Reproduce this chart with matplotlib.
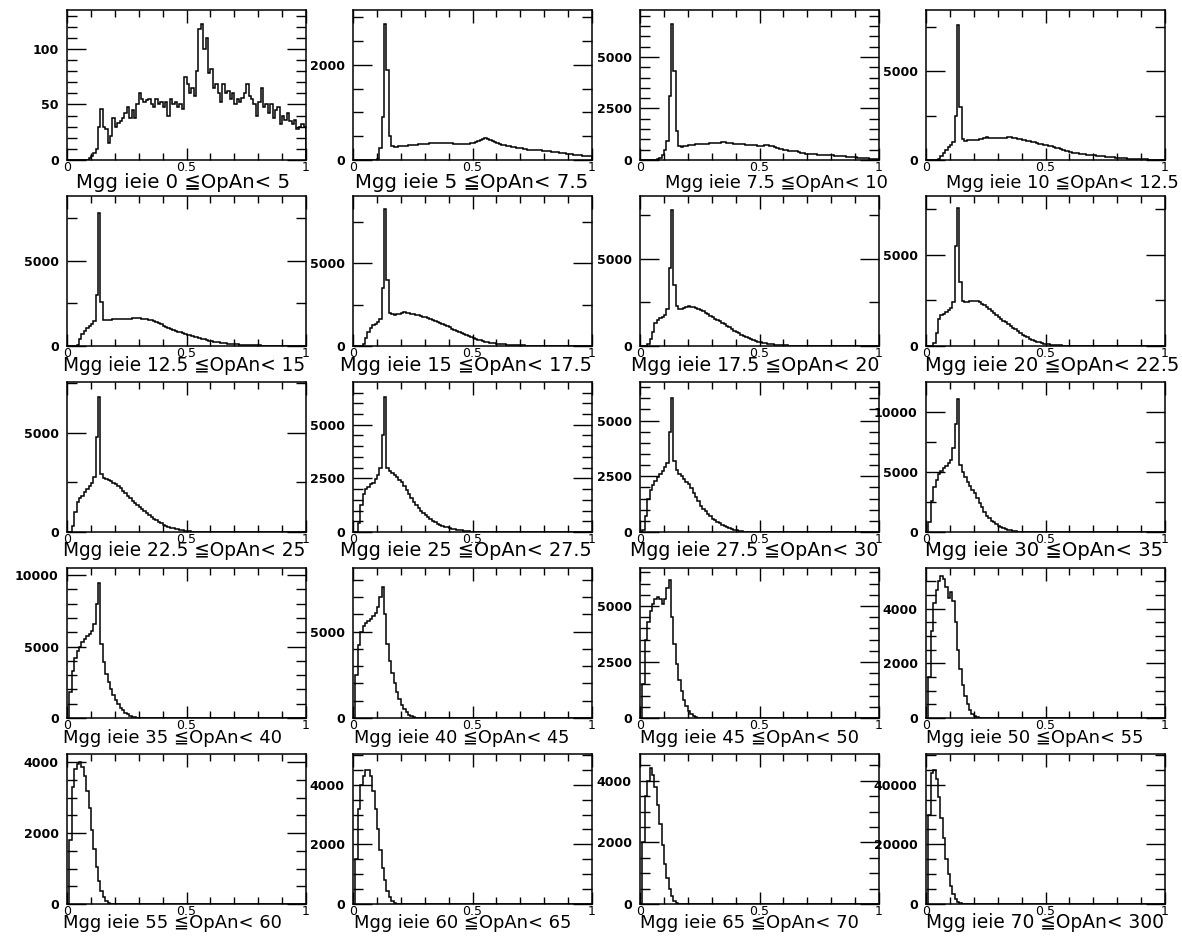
import numpy as np
import matplotlib.pyplot as plt
from matplotlib.ticker import MultipleLocator, FixedLocator, FormatStrFormatter

plt.rcParams['font.family'] = ['DejaVu Sans', 'Noto Sans CJK JP']

bins = np.linspace(0, 1, 101)   # 100 bins, 0.01 wide

# opening angle ranges
lo = ['0', '5', '7.5', '10', '12.5', '15', '17.5', '20', '22.5', '25',
      '27.5', '30', '35', '40', '45', '50', '55', '60', '65', '70']
hi = ['5', '7.5', '10', '12.5', '15', '17.5', '20', '22.5', '25', '27.5',
      '30', '35', '40', '45', '50', '55', '60', '65', '70', '300']

# bin contents (trailing zeros dropped)
h00 = [0, 0, 0, 0, 0, 0, 0, 0, 0, 2, 4, 6, 10, 30, 46, 30, 28, 15, 22, 38,
       30, 33, 35, 38, 42, 48, 38, 45, 38, 50, 60, 55, 52, 54, 55, 50, 48, 55, 50, 52,
       48, 52, 40, 55, 50, 52, 48, 50, 46, 75, 68, 60, 65, 58, 80, 118, 122, 100, 110, 78,
       82, 65, 68, 60, 52, 68, 60, 62, 55, 60, 50, 55, 52, 56, 60, 68, 58, 55, 50, 40,
       52, 65, 48, 50, 42, 50, 38, 45, 48, 32, 40, 36, 42, 35, 32, 36, 28, 30, 32, 30]
h01 = [0, 0, 0, 0, 0, 0, 0, 0, 0, 0, 30, 250, 900, 2860, 1900, 500, 300, 280, 280, 290,
       290, 300, 300, 310, 310, 320, 320, 330, 330, 340, 340, 340, 350, 350, 360, 360, 350, 360, 350, 350,
       350, 350, 340, 340, 330, 330, 330, 330, 340, 350, 360, 380, 400, 420, 450, 470, 450, 420, 390, 370,
       350, 330, 320, 310, 300, 290, 280, 270, 260, 250, 250, 240, 230, 220, 220, 210, 210, 200, 200, 190,
       190, 180, 180, 170, 160, 160, 150, 140, 140, 130, 130, 120, 110, 110, 100, 100, 90, 90, 80, 80]
h02 = [0, 0, 0, 0, 0, 0, 20, 60, 120, 250, 500, 900, 3100, 6600, 4300, 1400, 700, 650, 680, 700,
       730, 740, 750, 760, 770, 770, 780, 790, 800, 810, 820, 820, 830, 840, 850, 850, 840, 830, 810, 800,
       790, 780, 770, 760, 750, 740, 730, 720, 710, 700, 690, 700, 710, 710, 690, 660, 620, 580, 550, 520,
       500, 480, 460, 440, 430, 420, 390, 360, 330, 310, 300, 290, 280, 270, 260, 250, 245, 240, 230, 225,
       220, 210, 200, 190, 180, 170, 160, 150, 140, 130, 125, 115, 105, 95, 85, 75, 65, 55, 45, 35]
h03 = [0, 0, 0, 0, 0, 40, 200, 400, 580, 720, 850, 1000, 2500, 7600, 3000, 1200, 1050, 1100, 1120, 1130,
       1140, 1150, 1170, 1200, 1250, 1270, 1240, 1250, 1230, 1230, 1230, 1240, 1250, 1260, 1270, 1270, 1250, 1220, 1200, 1170,
       1140, 1110, 1080, 1050, 1020, 990, 960, 920, 890, 850, 820, 790, 760, 730, 700, 670, 630, 580, 530, 490,
       450, 420, 390, 370, 350, 340, 320, 300, 280, 270, 260, 240, 230, 215, 205, 195, 180, 160, 145, 130,
       120, 110, 100, 90, 80, 70, 62, 55, 48, 42, 38, 34, 30, 26, 22, 20, 16, 13, 10, 8]
h04 = [0, 0, 0, 0, 80, 400, 700, 900, 1040, 1150, 1280, 1450, 3000, 7820, 2600, 1500, 1500, 1520, 1550, 1580,
       1600, 1580, 1600, 1590, 1600, 1610, 1600, 1620, 1630, 1640, 1630, 1610, 1590, 1560, 1530, 1500, 1450, 1390, 1330, 1270,
       1200, 1140, 1080, 1020, 960, 900, 850, 800, 750, 710, 670, 630, 590, 550, 510, 470, 430, 390, 350, 310,
       280, 250, 230, 210, 190, 175, 155, 140, 125, 110, 100, 90, 80, 72, 65, 58, 50, 44, 38, 34,
       30, 26, 22, 19, 16, 14, 12, 10, 8, 6, 5, 4, 3, 2]
h05 = [0, 0, 0, 0, 150, 500, 820, 1100, 1250, 1350, 1420, 1650, 3500, 8250, 4000, 2000, 1900, 1880, 1920, 1950,
       2000, 2020, 1980, 1960, 1940, 1920, 1880, 1840, 1800, 1760, 1720, 1660, 1600, 1540, 1480, 1420, 1360, 1300, 1240, 1180,
       1120, 1050, 980, 910, 840, 780, 720, 660, 600, 540, 480, 430, 380, 340, 300, 260, 230, 200, 175, 160,
       145, 130, 115, 100, 90, 80, 70, 60, 50, 45, 40, 35, 30, 26, 22, 20, 16, 13, 10, 8, 6]
h06 = [0, 0, 0, 100, 400, 800, 1300, 1500, 1600, 1650, 1780, 2100, 4500, 7800, 3500, 2300, 2100, 2120, 2180, 2230,
       2270, 2260, 2230, 2180, 2130, 2070, 1990, 1910, 1830, 1740, 1650, 1570, 1490, 1420, 1340, 1270, 1170, 1070, 980, 880,
       790, 720, 650, 580, 520, 460, 400, 340, 290, 250, 210, 180, 150, 130, 110, 95, 80, 65, 55, 45,
       38, 30, 25, 20, 15, 12, 9, 6, 4]
h07 = [0, 0, 0, 150, 700, 1500, 1700, 1760, 1850, 1980, 2100, 2400, 5500, 7580, 3500, 2450, 2420, 2430, 2450, 2470,
       2480, 2450, 2400, 2320, 2230, 2120, 2020, 1920, 1810, 1700, 1600, 1500, 1400, 1300, 1200, 1110, 1010, 910, 810, 710,
       620, 540, 470, 400, 340, 290, 240, 200, 160, 130, 110, 90, 70, 55, 45, 38, 30, 24, 18, 13,
       10, 7, 5]
h08 = [0, 0, 300, 1000, 1500, 1690, 1800, 1990, 2150, 2300, 2450, 2750, 4800, 6800, 2900, 2700, 2650, 2600, 2550, 2480,
       2400, 2300, 2200, 2080, 1950, 1820, 1700, 1580, 1460, 1350, 1240, 1140, 1040, 940, 840, 750, 660, 580, 500, 430,
       360, 310, 260, 220, 190, 165, 130, 105, 80, 60, 45, 30, 20, 12, 6]
h09 = [0, 0, 400, 1250, 1770, 2000, 2100, 2230, 2300, 2450, 2650, 3000, 4500, 6300, 3000, 2850, 2750, 2650, 2550, 2430,
       2310, 2140, 1960, 1780, 1590, 1390, 1250, 1120, 1000, 880, 770, 680, 600, 520, 450, 385, 330, 280, 240, 210,
       185, 160, 135, 115, 95, 80, 60, 45, 32, 22, 15, 8]
h10 = [0, 100, 700, 1480, 1900, 2100, 2300, 2480, 2600, 2750, 2900, 3100, 4500, 6000, 3200, 2800, 2600, 2500, 2380, 2260,
       2150, 1960, 1760, 1560, 1370, 1180, 1050, 930, 810, 700, 590, 520, 450, 390, 330, 270, 220, 175, 135, 100,
       75, 50, 32, 20, 10, 5]
h11 = [0, 800, 2600, 3780, 4300, 4800, 5100, 5300, 5500, 5700, 6000, 7000, 9000, 11100, 5600, 5000, 4600, 4200, 3800, 3500,
       3240, 2850, 2450, 2050, 1700, 1350, 1150, 950, 800, 660, 540, 450, 360, 280, 200, 135, 90, 55, 30, 12, 5]
h12 = [0, 1800, 3300, 4200, 4700, 5000, 5300, 5500, 5700, 5900, 6100, 6600, 8000, 9450, 5200, 3900, 3100, 2500, 2000, 1600,
       1250, 950, 720, 530, 380, 260, 170, 100, 55, 25, 10]
h13 = [0, 2500, 4200, 5000, 5300, 5500, 5600, 5700, 5900, 6100, 6400, 7000, 7600, 6000, 4300, 3300, 2600, 2000, 1500, 1100,
       780, 520, 320, 180, 90, 35, 10]
h14 = [0, 1500, 3500, 4300, 4800, 5100, 5300, 5400, 5300, 5100, 5300, 5800, 6150, 4500, 3300, 2400, 1700, 1200, 800, 520,
       320, 180, 90, 40, 12]
h15 = [0, 1500, 3200, 4200, 4700, 5000, 5200, 5100, 4800, 4400, 4600, 4300, 3500, 2500, 1800, 1200, 800, 500, 300, 150,
       60, 20]
h16 = [0, 1800, 3300, 3800, 3950, 4000, 3850, 3600, 3200, 2700, 2100, 1550, 1050, 650, 380, 200, 90, 30, 8]
h17 = [0, 1500, 3200, 4000, 4300, 4500, 4500, 4300, 3800, 3200, 2500, 1800, 1200, 800, 450, 230, 100, 35, 10]
h18 = [0, 2000, 3500, 4000, 4400, 4200, 3800, 3200, 2600, 1900, 1300, 850, 500, 250, 110, 40, 10]
h19 = [0, 30000, 44000, 45000, 42000, 36000, 29000, 22000, 15000, 10000, 6000, 3500, 1800, 800, 300, 80, 20]

hists = [h00, h01, h02, h03, h04, h05, h06, h07, h08, h09,
         h10, h11, h12, h13, h14, h15, h16, h17, h18, h19]

ymax = [135, 3150, 7280, 8430, 8820, 9040, 8620, 8240, 7550, 6990,
        6730, 12480, 10490, 8680, 6700, 5490, 4230, 5030, 4870, 50300]
ymaj = [50, 2000, 2500, 5000, 5000, 5000, 5000, 5000, 5000, 2500,
        2500, 5000, 5000, 5000, 2500, 2000, 2000, 2000, 2000, 20000]
ymin = [10, 500, 500, 2500, 2500, 2500, 2500, 2500, 2500, 500,
        500, 2500, 1000, 1000, 500, 500, 500, 500, 500, 5000]

W, H = 1182, 938
fig = plt.figure(figsize=(W / 100, H / 100), dpi=100)
renderer = fig.canvas.get_renderer()

col_x = [67, 353, 640, 926]
row_y = [10, 196, 382, 568, 754]
aw, ah = 239, 150
title_dy = [28, 25, 24, 25, 24]
# horizontal span of each title (pixels)
title_span = [(76, 295), (355, 598), (665, 887), (956, 1180),
              (63, 306), (340, 592), (631, 880), (925, 1178),
              (63, 306), (340, 592), (630, 878), (925, 1163),
              (63, 282), (354, 570), (640, 858), (926, 1143),
              (63, 282), (354, 570), (640, 858), (926, 1164)]

for k in range(20):
    r, c = divmod(k, 4)
    x0, y0 = col_x[c], row_y[r]
    ax = fig.add_axes([x0 / W, 1 - (y0 + ah) / H, aw / W, ah / H])
    vals = np.zeros(100)
    vals[:len(hists[k])] = hists[k]
    ax.stairs(vals, bins, color='black', lw=1.1)
    ax.set_xlim(0, 1)
    ax.set_ylim(0, ymax[k])

    ax.xaxis.set_major_locator(FixedLocator([0, 0.5, 1]))
    ax.xaxis.set_minor_locator(MultipleLocator(0.1))
    ax.set_xticklabels(['0', '0.5', '1'])
    ax.yaxis.set_major_locator(MultipleLocator(ymaj[k]))
    ax.yaxis.set_minor_locator(MultipleLocator(ymin[k]))
    ax.yaxis.set_major_formatter(FormatStrFormatter('%d'))

    ax.tick_params(which='both', direction='in', top=True, right=True, width=1.0)
    ax.tick_params(axis='x', which='major', length=9, pad=1, labelsize=9)
    ax.tick_params(axis='x', which='minor', length=5)
    ax.tick_params(axis='y', which='major', length=14, pad=6, labelsize=9)
    ax.tick_params(axis='y', which='minor', length=7)
    for lab in ax.get_yticklabels():
        lab.set_fontweight('bold')
    for sp in ax.spines.values():
        sp.set_linewidth(1.1)

    # title under the frame, sized to the span it has in the original
    tl, tr = title_span[k]
    t = fig.text(tl / W, 1 - (y0 + ah + title_dy[r]) / H,
                 f'Mgg ieie {lo[k]} ≦OpAn< {hi[k]}',
                 fontsize=13, ha='left', va='baseline')
    w = t.get_window_extent(renderer).width
    t.set_fontsize(min(14.2, max(12.8, 13 * (tr - tl) / w)))
    w = t.get_window_extent(renderer).width
    if tl + w > W - 3:
        t.set_x((W - 3 - w) / W)

fig.savefig('out.png', dpi=100)
